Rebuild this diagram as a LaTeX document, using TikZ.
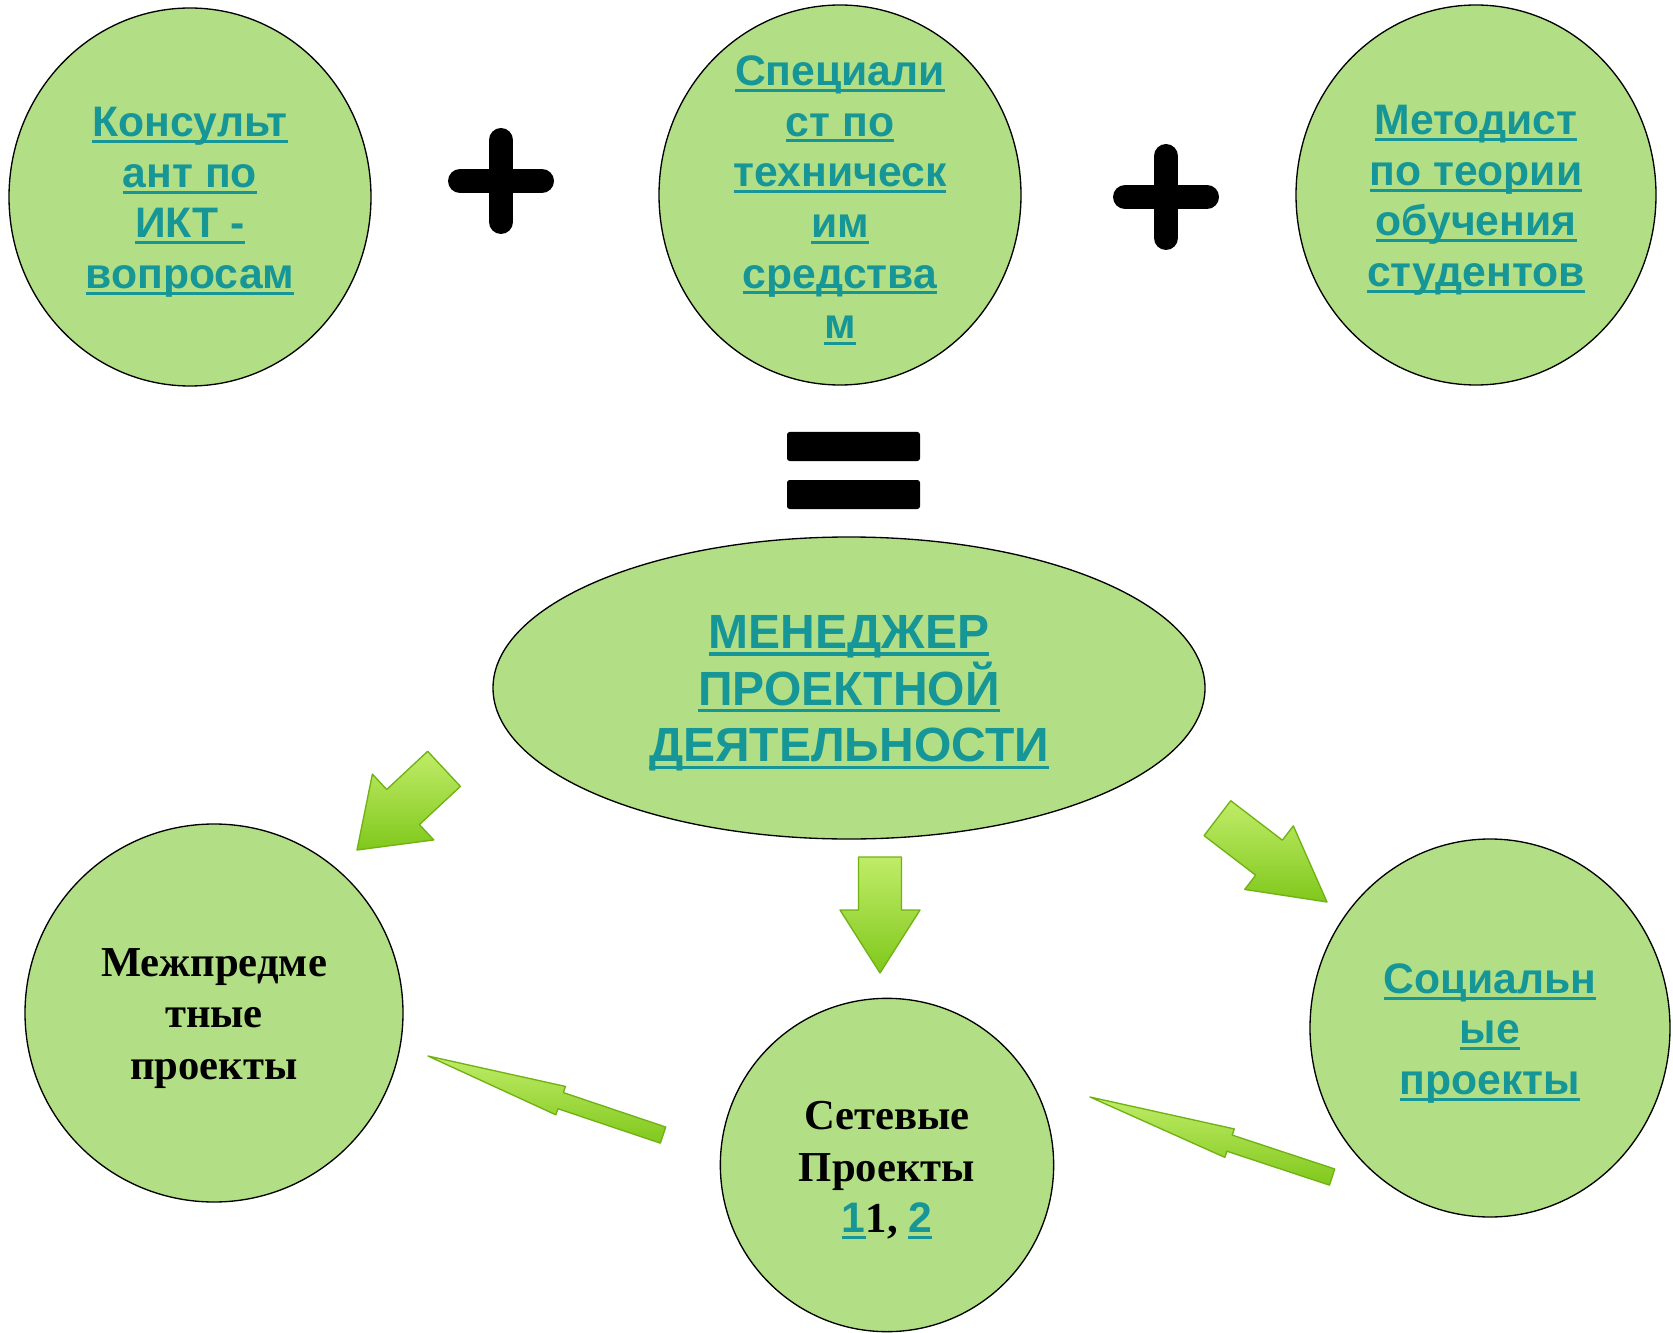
\documentclass[tikz,border=0pt]{standalone}
\usepackage{fontspec}
\setmainfont{Liberation Serif}
\newfontfamily\linkfont{Liberation Sans}
\usetikzlibrary{shapes.geometric}

\definecolor{leaf}{RGB}{178,223,134}
\definecolor{linkteal}{RGB}{22,150,150}
\definecolor{arrowgreen}{RGB}{128,200,28}
\definecolor{arrowlight}{RGB}{192,236,104}
\definecolor{arrowedge}{RGB}{112,178,18}

% underlined link text
\newcommand{\lnk}[1]{\setbox0\hbox{#1}\rlap{\rule[-0.15em]{\wd0}{0.07em}}\box0}

\tikzset{
  bubble/.style={ellipse, draw=black, line width=1pt, fill=leaf, inner sep=0pt},
  linktext/.style={align=center, yshift=-4pt, font=\linkfont\bfseries\fontsize{32}{38}\selectfont, text=linkteal},
  plaintext/.style={align=center, yshift=-4pt, font=\bfseries\fontsize{32}{38.5}\selectfont, text=black},
  bigarrow/.style={draw=arrowedge, line width=1pt, line join=round, top color=arrowlight, bottom color=arrowgreen},
  plusbar/.style={line width=18pt, line cap=round, black},
}

\begin{document}
\begin{tikzpicture}[x=0.75pt,y=0.75pt,yscale=-1,xscale=1]
\useasboundingbox (0,0) rectangle (1673,1333);

%Shape: Ellipse [id:ikt]
\node [bubble, minimum width=271.5pt, minimum height=283.5pt] (ikt) at (190,197) {};
%Shape: Ellipse [id:tech]
\node [bubble, minimum width=271.5pt, minimum height=285pt] (tech) at (840,195) {};
%Shape: Ellipse [id:method]
\node [bubble, minimum width=270pt, minimum height=285pt] (method) at (1476,195) {};
%Shape: Ellipse [id:manager]
\node [bubble, minimum width=534pt, minimum height=226.5pt] (manager) at (849,688) {};
%Shape: Ellipse [id:inter]
\node [bubble, minimum width=283.5pt, minimum height=283.5pt] (inter) at (214,1013) {};
%Shape: Ellipse [id:net]
\node [bubble, minimum width=250pt, minimum height=250pt] (net) at (887,1165) {};
%Shape: Ellipse [id:social]
\node [bubble, minimum width=270pt, minimum height=283.5pt] (social) at (1490,1028) {};

%Plus signs
\draw [plusbar] (460,181) -- (542,181) (501,140) -- (501,222) ;
\draw [plusbar] (1125,197) -- (1207,197) (1166,156) -- (1166,238) ;

%Equals sign
\fill [black, rounded corners=2pt] (787,432) rectangle (920,461) ;
\fill [black, rounded corners=2pt] (787,480) rectangle (920,509) ;

%Shape: Arrows [id:down-left, down, down-right]
\draw [bigarrow, shift={(357,850)}, rotate=-43] (0,0) -- (63,-45) -- (63,-24) -- (119,-24) -- (119,24) -- (63,24) -- (63,45) -- cycle ;
\draw [bigarrow, shift={(880,973)}, rotate=-90] (0,0) -- (63,-40) -- (63,-21.5) -- (116,-21.5) -- (116,21.5) -- (63,21.5) -- (63,40) -- cycle ;
\draw [bigarrow, shift={(1327,902)}, rotate=217.4] (0,0) -- (73,-40) -- (73,-22) -- (138,-22) -- (138,22) -- (73,22) -- (73,40) -- cycle ;
%Shape: Thin arrows [id:net-inter, social-net]
\draw [bigarrow, shift={(428,1056)}, rotate=18.6] (0,0) -- (140,-15) -- (140,-8.5) -- (248,-8.5) -- (248,8.5) -- (140,8.5) -- (140,15) -- cycle ;
\draw [bigarrow, shift={(1090,1097)}, rotate=18.3] (0,0) -- (147,-15) -- (147,-8.5) -- (255,-8.5) -- (255,8.5) -- (147,8.5) -- (147,15) -- cycle ;

% Text Node
\node [linktext] (ikt-text) at (ikt) {\lnk{Консульт}\\\lnk{ант по}\\\lnk{ИКТ -}\\\lnk{вопросам}};
% Text Node
\node [linktext] (tech-text) at (tech) {\lnk{Специали}\\\lnk{ст по}\\\lnk{техническ}\\\lnk{им}\\\lnk{средства}\\\lnk{м}};
% Text Node
\node [linktext] (method-text) at (method) {\lnk{Методист}\\\lnk{по теории}\\\lnk{обучения}\\\lnk{студентов}};
% Text Node
\node [linktext, font=\linkfont\bfseries\fontsize{36}{42.5}\selectfont] (manager-text) at (manager) {\lnk{МЕНЕДЖЕР}\\\lnk{ПРОЕКТНОЙ}\\\lnk{ДЕЯТЕЛЬНОСТИ}};
% Text Node
\node [plaintext] (inter-text) at (inter) {Межпредме\\тные\\проекты};
% Text Node
\node [plaintext] (net-text) at (net) {Сетевые\\Проекты\\{\linkfont\color{linkteal}\lnk{1}}1, {\linkfont\color{linkteal}\lnk{2}}};
% Text Node
\node [linktext] (social-text) at (social) {\lnk{Социальн}\\\lnk{ые}\\\lnk{проекты}};

\end{tikzpicture}
\end{document}
